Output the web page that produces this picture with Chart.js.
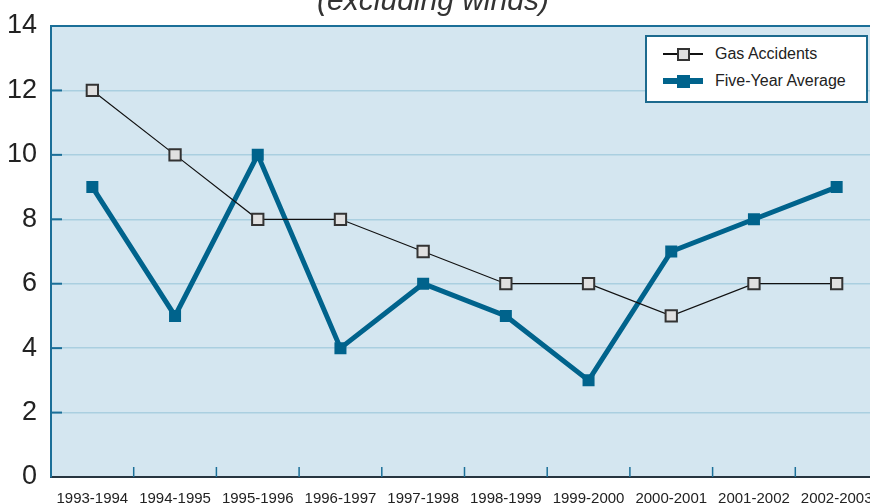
<!DOCTYPE html>
<html>
<head>
<meta charset="utf-8">
<script src="https://cdn.jsdelivr.net/npm/chart.js@4.4.1/dist/chart.umd.min.js"></script>
<style>
  html, body { margin: 0; padding: 0; background: #fff; }
  #wrap { position: relative; width: 870px; height: 504px; overflow: hidden; }
  #chart { position: absolute; left: 0; top: -26px; }
  #legend {
    position: absolute; left: 645px; top: 35px; width: 219px; height: 64px;
    background: #fff; border: 2px solid #1c6a8e;
    font-family: "Liberation Sans", Arial, sans-serif; font-size: 16px; color: #222;
  }
  .item { position: absolute; left: 16px; height: 20px; width: 200px; }
  .item .ln { position: absolute; left: 0; width: 40px; top: 50%; }
  .item .mk { position: absolute; box-sizing: border-box; }
  .item span { position: absolute; left: 52px; top: 1px; }
</style>
</head>
<body>
<div id="wrap">
  <canvas id="chart" width="890" height="540"></canvas>
  <div id="legend"></div>
</div>
<script>
// =========================
// DATA
// =========================
const categories = ["1993-1994","1994-1995","1995-1996","1996-1997","1997-1998",
                    "1998-1999","1999-2000","2000-2001","2001-2002","2002-2003"];
const gasAccidents = [12,10,8,8,7,6,6,5,6,6];
const fiveYearAverage = [9,5,10,4,6,5,3,7,8,9];
const yTicks = [0,2,4,6,8,10,12,14];
const seriesLabels = ["Gas Accidents","Five-Year Average"];
const titleText = "(excluding winds)";

const BLUE = "#00638c";
const AXIS = "#1b6f98";

// =========================
// PLUGINS
// =========================
const plotBg = {
  id: "plotBg",
  beforeDraw(chart) {
    const { ctx, chartArea: a } = chart;
    ctx.save();
    ctx.fillStyle = "#d4e6f0";
    ctx.fillRect(a.left, a.top, a.right - a.left, a.bottom - a.top);
    ctx.restore();
  },
  afterDraw(chart) {
    const { ctx, chartArea: a, scales } = chart;
    ctx.save();
    // top border
    ctx.strokeStyle = AXIS;
    ctx.lineWidth = 2;
    ctx.beginPath();
    ctx.moveTo(a.left, a.top);
    ctx.lineTo(a.right, a.top);
    ctx.stroke();
    // inward y ticks
    yTicks.forEach(v => {
      if (v === 0 || v === 14) return;
      const y = scales.y.getPixelForValue(v);
      ctx.beginPath();
      ctx.moveTo(a.left, y);
      ctx.lineTo(a.left + 11, y);
      ctx.stroke();
    });
    // inward x ticks between categories
    ctx.lineWidth = 1.5;
    for (let i = 1; i < categories.length; i++) {
      const x = (scales.x.getPixelForValue(i - 1) + scales.x.getPixelForValue(i)) / 2;
      ctx.beginPath();
      ctx.moveTo(x, a.bottom);
      ctx.lineTo(x, a.bottom - 10);
      ctx.stroke();
    }
    // title
    ctx.fillStyle = "#333";
    ctx.font = "italic 30px 'Liberation Sans', Arial, sans-serif";
    ctx.textAlign = "center";
    ctx.textBaseline = "alphabetic";
    ctx.fillText(titleText, 433, 36);
    ctx.restore();
  }
};

// =========================
// CHART
// =========================
const chart = new Chart(document.getElementById("chart"), {
  type: "line",
  data: {
    labels: categories,
    datasets: [
      {
        label: seriesLabels[0],
        data: gasAccidents,
        borderColor: "#111",
        borderWidth: 1.2,
        pointStyle: "rect",
        pointRadius: 8,
        pointBorderWidth: 2,
        pointBorderColor: "#333",
        pointBackgroundColor: "#e0e0e0",
        tension: 0,
        order: 1
      },
      {
        label: seriesLabels[1],
        data: fiveYearAverage,
        borderColor: BLUE,
        borderWidth: 5,
        pointStyle: "rect",
        pointRadius: 8.5,
        pointBorderWidth: 0,
        pointBackgroundColor: BLUE,
        tension: 0,
        order: 2
      }
    ]
  },
  options: {
    responsive: false,
    animation: false,
    layout: { padding: { top: 52, left: 0, right: 12, bottom: 1 } },
    plugins: { legend: { display: false }, tooltip: { enabled: false } },
    scales: {
      x: {
        offset: true,
        afterFit(s) { s.height = 36; },
        grid: { display: false },
        border: { color: "#263540", width: 2 },
        ticks: {
          color: "#222",
          padding: 5,
          maxRotation: 0,
          autoSkip: false,
          font: { family: "'Liberation Sans', Arial, sans-serif", size: 15 }
        }
      },
      y: {
        min: 0,
        max: 14,
        afterFit(s) { s.width = 51; },
        afterBuildTicks(s) { s.ticks = yTicks.map(v => ({ value: v })); },
        grid: { color: "#aacfe0", lineWidth: 1.5, drawTicks: false },
        border: { color: AXIS, width: 2 },
        ticks: {
          color: "#222",
          padding: 14,
          font: { family: "'Liberation Sans', Arial, sans-serif", size: 27 }
        }
      }
    }
  },
  plugins: [plotBg]
});

// =========================
// HTML LEGEND
// =========================
const legend = document.getElementById("legend");
chart.data.datasets.forEach((ds, i) => {
  const item = document.createElement("div");
  item.className = "item";
  item.style.top = (i === 0 ? 7 : 34) + "px";
  const ln = document.createElement("div");
  ln.className = "ln";
  const lw = i === 0 ? 1.5 : 6;
  ln.style.height = lw + "px";
  ln.style.marginTop = (-lw / 2) + "px";
  ln.style.background = i === 0 ? "#111" : BLUE;
  const mk = document.createElement("div");
  mk.className = "mk";
  mk.style.width = mk.style.height = "13px";
  mk.style.left = "14px";
  mk.style.top = "3.5px";
  mk.style.background = ds.pointBackgroundColor;
  if (i === 0) mk.style.border = "2px solid #333";
  const sp = document.createElement("span");
  sp.textContent = ds.label;
  item.append(ln, mk, sp);
  legend.appendChild(item);
});
</script>
</body>
</html>
